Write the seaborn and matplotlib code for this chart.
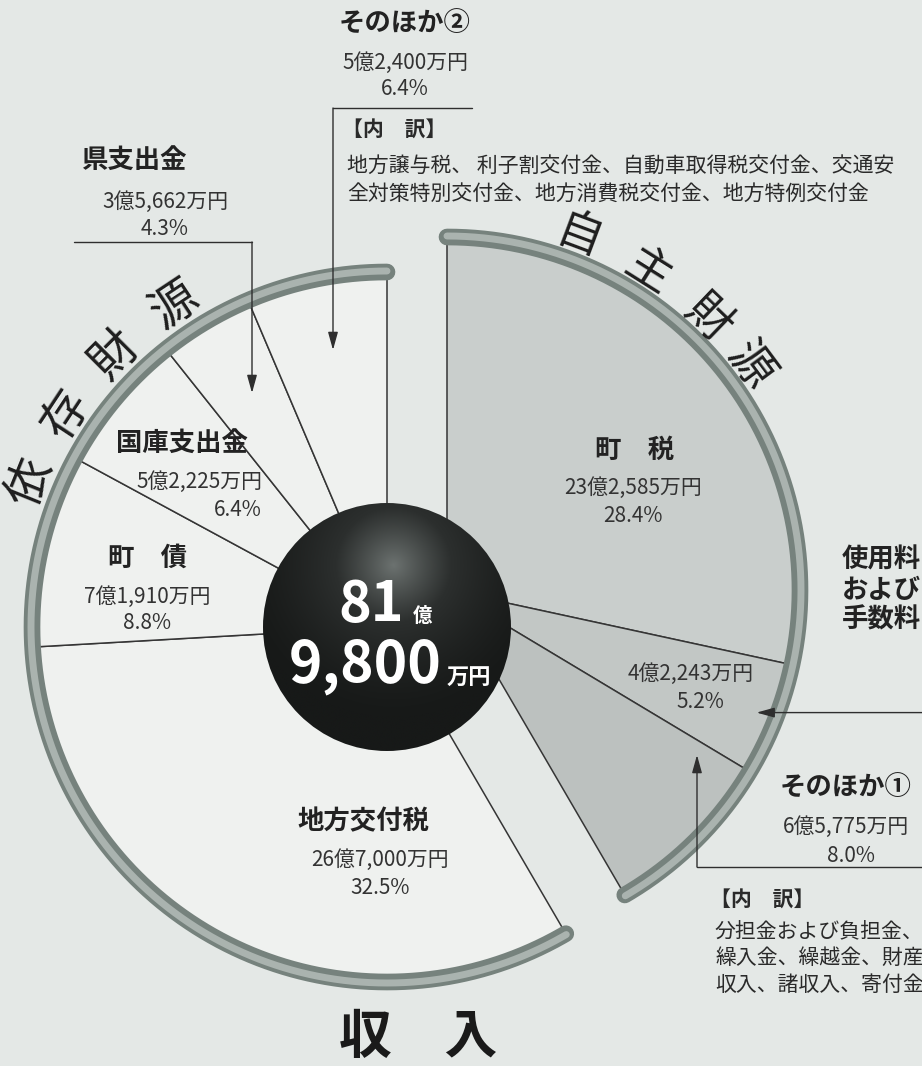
import numpy as np
import matplotlib
matplotlib.use('Agg')
import matplotlib.pyplot as plt
from matplotlib.patches import Circle
from matplotlib.colors import LinearSegmentedColormap
import seaborn as sns

sns.set_theme(style='white')
plt.rcParams['font.family'] = ['Noto Sans CJK JP', 'DejaVu Sans']

W, H = 922, 1066

# revenue in 万円, shares in % as printed
own_labels = ['町　税', '使用料', 'そのほか①']
own_amounts = [232585, 42243, 65775]
own_pct = [28.4, 5.2, 8.0]
dep_labels = ['地方交付税', '町　債', '国庫支出金', '県支出金', 'そのほか②']
dep_amounts = [267000, 71910, 52225, 35662, 52400]
dep_pct = [32.5, 8.8, 6.4, 4.3, 6.4]
total_amount = 819800
other1_detail = ['分担金および負担金、', '繰入金、繰越金、財産', '収入、諸収入、寄付金']
other2_detail = ['地方譲与税、 利子割交付金、自動車取得税交付金、交通安',
                 '全対策特別交付金、地方消費税交付金、地方特例交付金']


def yen(v):
    oku, man = divmod(v, 10000)
    return f'{oku}億{man:,}万円'


def P(x, y):
    # picture pixel -> data coords (y up)
    return x, H - y


own_share = [p / 100 for p in own_pct]
dep_share = [p / 100 for p in dep_pct]
own_end = 90 - sum(own_share) * 360

fig = plt.figure(figsize=(W / 100, H / 100), dpi=100)
fig.patch.set_facecolor('#e4e8e6')
ax = fig.add_axes([0, 0, 1, 1])
ax.set_facecolor('#e4e8e6')

dep_c = P(387, 627)
own_c = P(447, 590)
R_dep, R_own = 352, 350
edge = dict(edgecolor='#353535', linewidth=1.1)

ax.pie(own_share, startangle=90, counterclock=False, normalize=False, center=own_c,
       radius=R_own, colors=['#c9cecc', '#c2c7c5', '#bcc1bf'], wedgeprops=edge)
ax.pie(dep_share, startangle=own_end, counterclock=False, normalize=False, center=dep_c,
       radius=R_dep, colors=['#eff1ef'] * 5, wedgeprops=edge)


def ring(c, r, a0, a1):
    t = np.radians(np.linspace(a0, a1, 300))
    ax.plot(c[0] + r * np.cos(t), c[1] + r * np.sin(t), color='#76827d', lw=12,
            solid_capstyle='round', zorder=5)
    ax.plot(c[0] + (r + 1) * np.cos(t), c[1] + (r + 1) * np.sin(t), color='#aab3af', lw=5,
            solid_capstyle='round', zorder=5)


ring(own_c, R_own + 3, 90, own_end)
ring(dep_c, R_dep + 3, 90, own_end + 360)

# the ball
rb = 124
yy, xx = np.mgrid[-1:1:400j, -1:1:400j]
shade = np.clip(1 - np.hypot(xx - 0.05, yy - 0.5) / 1.25, 0, 1) ** 1.5
ball_cmap = LinearSegmentedColormap.from_list('ball', ['#171918', '#2c2f2e', '#6c7270'])
img = ax.imshow(shade, cmap=ball_cmap, origin='lower', vmin=0, vmax=1, zorder=6,
                extent=[dep_c[0] - rb, dep_c[0] + rb, dep_c[1] - rb, dep_c[1] + rb])
clip = Circle(dep_c, rb, facecolor='none', edgecolor='none', transform=ax.transData)
ax.add_patch(clip)
img.set_clip_path(clip)

tot_oku, tot_man = divmod(total_amount, 10000)
white = dict(color='white', weight='bold', ha='center', va='center', zorder=7)
ax.text(*P(371, 605), str(tot_oku), fontsize=40, **white)
ax.text(*P(423, 616), '億', fontsize=14, **white)
ax.text(*P(365, 666), f'{tot_man:,}', fontsize=41, **white)
ax.text(*P(469, 678), '万円', fontsize=16, **white)

name = dict(color='#222222', ha='center', va='center', fontsize=19, weight='bold', zorder=8)
num = dict(color='#333333', ha='center', va='center', fontsize=15, zorder=8)

# dependent revenue labels
ax.text(*P(363, 822), dep_labels[0], **name)
ax.text(*P(380, 860), yen(dep_amounts[0]), **num)
ax.text(*P(380, 888), f'{dep_pct[0]}%', **num)

ax.text(*P(148, 558), dep_labels[1], **name)
ax.text(*P(147, 597), yen(dep_amounts[1]), **num)
ax.text(*P(147, 623), f'{dep_pct[1]}%', **num)

ax.text(*P(182, 443), dep_labels[2], **name)
ax.text(*P(262, 482), yen(dep_amounts[2]), **{**num, 'ha': 'right'})
ax.text(*P(262, 510), f'{dep_pct[2]}%', **{**num, 'ha': 'right'})

ax.text(*P(134, 160), dep_labels[3], **name)
ax.text(*P(165, 202), yen(dep_amounts[3]), **num)
ax.text(*P(165, 229), f'{dep_pct[3]}%', **num)

ax.text(*P(405, 24), dep_labels[4], **name)
ax.text(*P(405, 63), yen(dep_amounts[4]), **num)
ax.text(*P(405, 89), f'{dep_pct[4]}%', **num)

# own revenue labels
ax.text(*P(635, 450), own_labels[0], **name)
ax.text(*P(633, 488), yen(own_amounts[0]), **num)
ax.text(*P(633, 516), f'{own_pct[0]}%', **num)

mid_fee = np.radians(90 - (own_share[0] + own_share[1] / 2) * 360)
fx, fy = own_c[0] + 262 * np.cos(mid_fee), own_c[1] + 262 * np.sin(mid_fee)
ax.text(fx, fy + 12, yen(own_amounts[1]), **num)
ax.text(fx + 10, fy - 16, f'{own_pct[1]}%', **num)
ax.text(*P(842, 590), '使用料\nおよび\n手数料', color='#222222', ha='left', va='center',
        fontsize=19, weight='bold', linespacing=1.15, zorder=8)
tip_y = own_c[1] + 333 * np.sin(mid_fee)
arrow = dict(arrowstyle='-|>,head_length=0.9,head_width=0.25', color='#2e2e2e', lw=1.0,
             shrinkA=0, shrinkB=0)
ax.annotate('', xy=(own_c[0] + 333 * np.cos(mid_fee), tip_y), xytext=(W, tip_y),
            arrowprops=arrow, zorder=8)

ax.text(*P(846, 788), own_labels[2], **name)
ax.text(*P(846, 827), yen(own_amounts[2]), **num)
ax.text(*P(851, 856), f'{own_pct[2]}%', **num)

# brackets with arrows
line = dict(color='#2e2e2e', lw=1.0, zorder=8)
ax.plot(*zip(P(472, 108), P(333, 108)), **line)
ax.annotate('', xy=P(333, 350), xytext=P(333, 108), arrowprops=arrow, zorder=8)
ax.plot(*zip(P(74, 242), P(252, 242)), **line)
ax.annotate('', xy=P(252, 393), xytext=P(252, 242), arrowprops=arrow, zorder=8)
ax.plot(*zip(P(W, 867), P(697, 867)), **line)
ax.annotate('', xy=P(697, 755), xytext=P(697, 867), arrowprops=arrow, zorder=8)

detail = dict(color='#2a2a2a', ha='left', va='center', fontsize=15, zorder=8)
ax.text(*P(342, 130), '【内　訳】', **{**detail, 'weight': 'bold'})
for i, s in enumerate(other2_detail):
    ax.text(*P(347, 166 + 28 * i), s, **detail)
ax.text(*P(710, 900), '【内　訳】', **{**detail, 'weight': 'bold'})
for i, s in enumerate(other1_detail):
    ax.text(*P(715, 931 + 27 * i), s, **detail)

# group titles bent along the rings
for ch, ang in zip('依存財源', [158, 146.5, 135, 123.5]):
    t = np.radians(ang)
    ax.text(dep_c[0] + 385 * np.cos(t), dep_c[1] + 385 * np.sin(t), ch, fontsize=34,
            rotation=ang - 90, rotation_mode='anchor', ha='center', va='center',
            color='#1e1e1e', zorder=8)
for ch, ang in zip('自主財源', [69.5, 57.8, 46.1, 36.6]):
    t = np.radians(ang)
    ax.text(own_c[0] + 377 * np.cos(t), own_c[1] + 377 * np.sin(t), ch, fontsize=33,
            rotation=ang - 90, rotation_mode='anchor', ha='center', va='center',
            color='#1e1e1e', zorder=8)

ax.text(*P(418, 1038), '収　入', fontsize=38, weight='bold', color='#1a1a1a',
        ha='center', va='center', zorder=8)

ax.set_xlim(0, W)
ax.set_ylim(0, H)
ax.set_aspect('equal')
ax.axis('off')
fig.savefig('out.png', dpi=100, facecolor=fig.get_facecolor())
